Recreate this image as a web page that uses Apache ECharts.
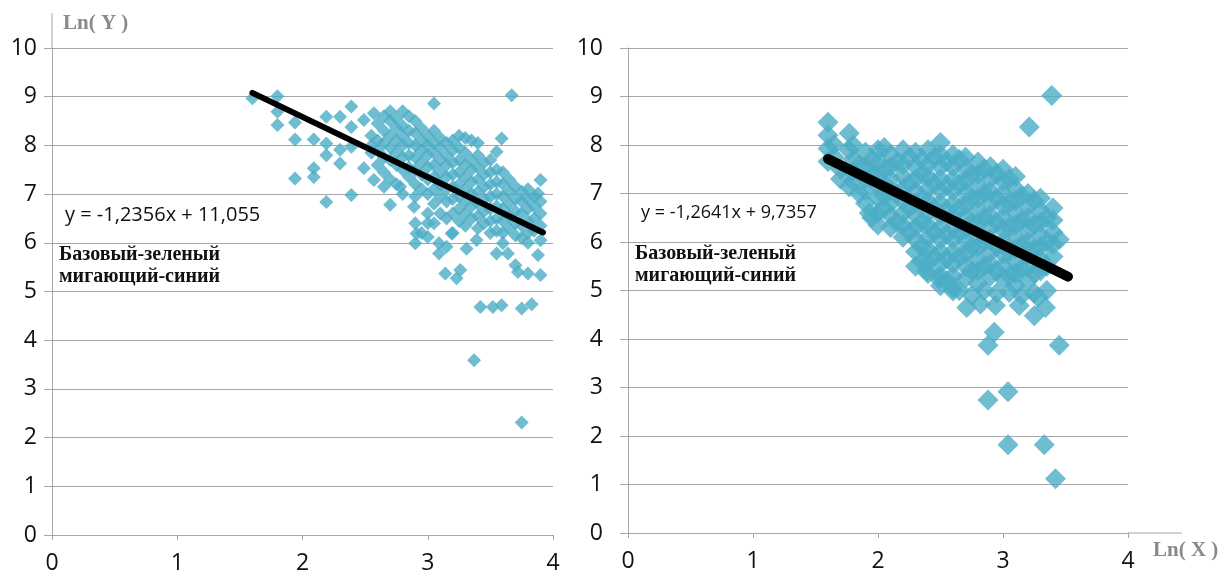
<!DOCTYPE html>
<html><head><meta charset="utf-8">
<script src="https://cdn.jsdelivr.net/npm/echarts@6/dist/echarts.min.js"></script>
<style>html,body{margin:0;background:#fff}#c{width:1229px;height:577px}</style>
</head><body><div id="c"></div>
<script>
const xTickMin = 0, xTickMax = 4, yTickMin = 0, yTickMax = 10;
const eqLeft = 'y = -1,2356x + 11,055';
const eqRight = 'y = -1,2641x + 9,7357';
const noteLines = ['Базовый-зеленый', 'мигающий-синий'];
const yTitle = 'Ln( Y )';
const xTitle = 'Ln( X )';

const trendLeft = [[1.6, 9.078], [3.92, 6.212]];
const trendRight = [[1.6, 7.713], [3.52, 5.286]];

const pointsLeft = [
[1.6,8.97],[1.8,9.01],[1.8,8.69],[1.8,8.42],[1.94,8.47],[1.94,8.12],[1.94,7.32],[2.09,8.12],[2.09,7.53],[2.09,7.35],
[2.19,8.59],[2.19,8.04],[2.19,7.8],[2.19,6.84],[2.3,8.59],[2.3,7.91],[2.3,7.63],[2.39,8.8],[2.39,8.38],[2.39,7.97],
[2.39,6.98],[2.49,8.52],[2.49,7.53],[2.57,8.66],[2.57,7.29],[2.65,7.15],[2.7,6.78],[2.78,7.15],[2.89,6.74],[3.05,8.86],
[2.55,8.2],[2.55,8.0],[2.55,7.85],
[2.6,8.45],[2.6,8.1],[2.6,7.9],[2.6,7.6],
[2.65,8.6],[2.65,8.3],[2.65,8.05],[2.65,7.75],[2.65,7.45],
[2.7,8.7],[2.7,8.5],[2.7,8.2],[2.7,7.95],[2.7,7.7],[2.7,7.3],
[2.75,8.55],[2.75,8.35],[2.75,8.1],[2.75,7.85],[2.75,7.6],[2.75,7.2],
[2.8,8.7],[2.8,8.4],[2.8,8.2],[2.8,8.0],[2.8,7.75],[2.8,7.5],[2.8,7.0],
[2.85,8.6],[2.85,8.3],[2.85,8.05],[2.85,7.8],[2.85,7.55],[2.85,7.35],
[2.9,8.5],[2.9,8.25],[2.9,8.0],[2.9,7.75],[2.9,7.5],[2.9,7.2],[2.9,6.95],[2.9,6.4],
[2.95,8.35],[2.95,8.1],[2.95,7.9],[2.95,7.65],[2.95,7.4],[2.95,7.1],[2.95,6.2],
[3.0,8.2],[3.0,8.0],[3.0,7.8],[3.0,7.55],[3.0,7.3],[3.0,7.0],[3.0,6.6],[3.0,6.4],
[3.05,8.3],[3.05,8.05],[3.05,7.85],[3.05,7.6],[3.05,7.35],[3.05,7.1],[3.05,6.8],[3.05,6.4],
[3.1,8.15],[3.1,7.95],[3.1,7.7],[3.1,7.45],[3.1,7.2],[3.1,6.95],[3.1,6.6],
[3.15,8.05],[3.15,7.8],[3.15,7.6],[3.15,7.35],[3.15,7.1],[3.15,6.85],[3.15,6.5],
[3.2,8.1],[3.2,7.9],[3.2,7.65],[3.2,7.4],[3.2,7.15],[3.2,6.9],[3.2,6.6],[3.2,6.2],
[3.25,8.2],[3.25,7.95],[3.25,7.7],[3.25,7.45],[3.25,7.2],[3.25,6.95],[3.25,6.7],[3.25,6.45],
[3.3,8.15],[3.3,7.85],[3.3,7.6],[3.3,7.35],[3.3,7.1],[3.3,6.85],[3.3,6.6],[3.3,6.35],
[3.35,8.1],[3.35,7.7],[3.35,7.5],[3.35,7.25],[3.35,7.0],[3.35,6.75],[3.35,6.5],
[3.4,8.05],[3.4,7.8],[3.4,7.55],[3.4,7.3],[3.4,7.05],[3.4,6.8],[3.4,6.55],[3.4,6.3],
[3.45,7.65],[3.45,7.4],[3.45,7.15],[3.45,6.9],[3.45,6.65],[3.45,6.4],
[3.5,7.7],[3.5,7.45],[3.5,7.2],[3.5,6.95],[3.5,6.7],[3.5,6.45],[3.5,6.2],
[3.55,7.5],[3.55,7.25],[3.55,7.0],[3.55,6.75],[3.55,6.5],[3.55,6.25],
[3.6,7.45],[3.6,7.2],[3.6,6.95],[3.6,6.7],[3.6,6.45],[3.6,6.2],
[3.65,7.3],[3.65,7.05],[3.65,6.8],[3.65,6.55],[3.65,6.3],
[3.7,7.15],[3.7,6.9],[3.7,6.65],[3.7,6.4],[3.7,6.15],
[3.75,7.05],[3.75,6.85],[3.75,6.6],[3.75,6.35],[3.75,6.1],
[3.8,7.1],[3.8,6.9],[3.8,6.7],[3.8,6.45],[3.8,6.2],[3.8,6.0],
[3.85,6.95],[3.85,6.75],[3.85,6.5],[3.85,6.25],
[3.9,6.85],[3.9,6.6],[3.9,6.35],
[2.91,6.19],[2.9,5.99],[3.0,6.12],[3.09,5.99],[3.09,5.78],[3.15,5.92],[3.14,5.37],[3.23,5.27],[3.26,5.44],[3.19,6.19],
[3.31,5.88],[3.39,6.06],[3.55,5.78],[3.64,5.78],[3.6,5.99],[3.7,5.54],[3.72,5.4],[3.8,5.37],[3.9,5.34],[3.88,5.75],
[3.9,6.05],[3.88,7.01],[3.9,7.29],[3.59,8.14],[3.55,7.87],[3.67,9.03],[3.42,4.68],[3.52,4.68],[3.59,4.72],[3.75,4.65],
[3.83,4.74],[3.37,3.59],[3.75,2.31]
];

const pointsRight = [
[1.6,8.47],[1.6,8.2],[1.6,7.93],[1.6,7.66],[1.77,8.24],[1.77,7.89],[1.77,7.14],[1.93,6.6],[3.39,9.02],[3.21,8.37],
[3.45,6.05],[3.45,3.87],[2.88,3.87],[2.93,4.14],[2.88,2.74],[3.04,2.91],[3.04,1.82],[3.33,1.82],[3.42,1.12],[2.71,4.65],
[2.82,4.72],[2.94,4.69],[3.05,4.96],[3.13,4.69],[3.25,4.48],[3.28,4.86],[3.34,4.65],[2.6,4.99],[2.39,5.4],[2.49,5.23],
[1.65,8.0],[1.65,7.75],
[1.7,7.5],[1.7,7.3],
[1.8,8.0],[1.8,7.7],[1.8,7.45],[1.8,7.25],
[1.85,7.6],[1.85,7.0],
[1.9,7.85],[1.9,7.55],[1.9,7.3],[1.9,7.05],[1.9,6.8],
[1.95,7.7],[1.95,7.4],[1.95,6.5],
[2.0,7.9],[2.0,7.65],[2.0,7.4],[2.0,7.15],[2.0,6.9],[2.0,6.6],[2.0,6.35],
[2.05,7.95],[2.05,7.5],[2.05,7.2],[2.05,6.95],[2.05,6.7],
[2.1,7.8],[2.1,7.55],[2.1,7.3],[2.1,7.05],[2.1,6.8],[2.1,6.55],[2.1,6.3],
[2.15,7.65],[2.15,7.0],[2.15,6.4],
[2.2,7.9],[2.2,7.6],[2.2,7.35],[2.2,7.1],[2.2,6.85],[2.2,6.6],[2.2,6.35],[2.2,6.1],
[2.25,7.75],[2.25,7.2],[2.25,6.7],[2.25,6.2],
[2.3,7.85],[2.3,7.55],[2.3,7.3],[2.3,7.05],[2.3,6.8],[2.3,6.55],[2.3,6.3],[2.3,6.05],[2.3,5.8],[2.3,5.5],
[2.35,7.7],[2.35,7.4],[2.35,6.9],[2.35,6.4],[2.35,5.9],[2.35,5.6],
[2.4,7.9],[2.4,7.6],[2.4,7.35],[2.4,7.1],[2.4,6.85],[2.4,6.6],[2.4,6.35],[2.4,6.1],[2.4,5.85],[2.4,5.6],[2.4,5.35],
[2.45,7.75],[2.45,7.2],[2.45,6.7],[2.45,6.2],[2.45,5.7],
[2.5,8.05],[2.5,7.8],[2.5,7.55],[2.5,7.3],[2.5,7.05],[2.5,6.8],[2.5,6.55],[2.5,6.3],[2.5,6.05],[2.5,5.8],[2.5,5.55],[2.5,5.3],[2.5,5.1],
[2.55,7.65],[2.55,7.15],[2.55,6.65],[2.55,6.15],[2.55,5.65],[2.55,5.2],
[2.6,7.8],[2.6,7.55],[2.6,7.3],[2.6,7.05],[2.6,6.8],[2.6,6.55],[2.6,6.3],[2.6,6.05],[2.6,5.8],[2.6,5.55],[2.6,5.3],[2.6,5.05],
[2.65,7.7],[2.65,7.2],[2.65,6.7],[2.65,6.2],[2.65,5.7],[2.65,5.0],
[2.7,7.75],[2.7,7.5],[2.7,7.25],[2.7,7.0],[2.7,6.75],[2.7,6.5],[2.7,6.25],[2.7,6.0],[2.7,5.75],[2.7,5.5],[2.7,5.25],
[2.75,7.4],[2.75,6.9],[2.75,6.4],[2.75,5.9],[2.75,5.4],[2.75,4.9],
[2.8,7.65],[2.8,7.4],[2.8,7.15],[2.8,6.9],[2.8,6.65],[2.8,6.4],[2.8,6.15],[2.8,5.9],[2.8,5.65],[2.8,5.4],[2.8,5.15],
[2.85,7.5],[2.85,7.0],[2.85,6.5],[2.85,6.0],[2.85,5.5],[2.85,5.0],
[2.9,7.55],[2.9,7.3],[2.9,7.05],[2.9,6.8],[2.9,6.55],[2.9,6.3],[2.9,6.05],[2.9,5.8],[2.9,5.55],[2.9,5.3],
[2.95,7.4],[2.95,6.9],[2.95,6.4],[2.95,5.9],[2.95,5.4],[2.95,4.95],
[3.0,7.5],[3.0,7.25],[3.0,7.0],[3.0,6.75],[3.0,6.5],[3.0,6.25],[3.0,6.0],[3.0,5.75],[3.0,5.5],[3.0,5.25],
[3.05,7.3],[3.05,6.8],[3.05,6.3],[3.05,5.8],[3.05,5.3],
[3.1,7.35],[3.1,7.1],[3.1,6.85],[3.1,6.6],[3.1,6.35],[3.1,6.1],[3.1,5.85],[3.1,5.6],[3.1,5.35],[3.1,5.1],
[3.15,6.95],[3.15,6.45],[3.15,5.95],[3.15,5.45],[3.15,4.9],
[3.2,7.0],[3.2,6.75],[3.2,6.5],[3.2,6.25],[3.2,6.0],[3.2,5.75],[3.2,5.5],[3.2,5.2],
[3.25,6.85],[3.25,6.35],[3.25,5.85],[3.25,5.35],[3.25,4.95],
[3.3,6.9],[3.3,6.65],[3.3,6.4],[3.3,6.15],[3.3,5.9],[3.3,5.65],[3.3,5.4],
[3.35,6.5],[3.35,6.0],[3.35,5.5],[3.35,5.0],
[3.4,6.7],[3.4,6.45],[3.4,6.2],[3.4,5.95],[3.4,5.7]
];

const pointColor = '#4bacc6';
const gridColor = '#a6a6a6';
const labelFont = '"Open Sans", "Noto Sans", sans-serif';
const serifFont = '"Liberation Serif", "DejaVu Serif", serif';

function xAxisDef(gridIndex, margin) {
  return {
    type: 'value', gridIndex, min: xTickMin, max: xTickMax, interval: 1,
    axisLine: { show: true, onZero: false, lineStyle: { color: gridColor, width: 1 } },
    axisTick: { show: true, length: 5, lineStyle: { color: gridColor } },
    axisLabel: { color: '#111', fontSize: 23, fontFamily: labelFont, margin },
    splitLine: { show: false }
  };
}
function yAxisDef(gridIndex, margin) {
  return {
    type: 'value', gridIndex, min: yTickMin, max: yTickMax, interval: 1,
    axisLine: { show: true, onZero: false, lineStyle: { color: gridColor, width: 1 } },
    axisTick: { show: true, length: 8, lineStyle: { color: gridColor } },
    axisLabel: { color: '#111', fontSize: 23, fontFamily: labelFont, margin },
    splitLine: { show: true, lineStyle: { color: gridColor, width: 1 } }
  };
}

const chart = echarts.init(document.getElementById('c'), null, { renderer: 'canvas' });
const option = {
  animation: false,
  backgroundColor: '#fff',
  grid: [
    { left: 52, right: 676, top: 48, bottom: 42 },
    { left: 628, right: 101, top: 48, bottom: 44 }
  ],
  xAxis: [xAxisDef(0, 17), xAxisDef(1, 17)],
  yAxis: [yAxisDef(0, 15), yAxisDef(1, 25)],
  series: [
    { type: 'scatter', xAxisIndex: 0, yAxisIndex: 0, data: pointsLeft, symbol: 'diamond', symbolSize: 14,
      itemStyle: { color: pointColor } },
    { type: 'scatter', xAxisIndex: 1, yAxisIndex: 1, data: pointsRight, symbol: 'diamond', symbolSize: 21,
      itemStyle: { color: pointColor } },
    { type: 'line', xAxisIndex: 0, yAxisIndex: 0, data: trendLeft, symbol: 'none', z: 5,
      lineStyle: { color: '#000', width: 6, cap: 'round' } },
    { type: 'line', xAxisIndex: 1, yAxisIndex: 1, data: trendRight, symbol: 'none', z: 5,
      lineStyle: { color: '#000', width: 10, cap: 'round' } }
  ]
};
chart.setOption(option);

const leftTop = chart.convertToPixel({ xAxisIndex: 0, yAxisIndex: 0 }, [xTickMin, yTickMax]);
const rightEnd = chart.convertToPixel({ xAxisIndex: 1, yAxisIndex: 1 }, [xTickMax, yTickMin]);

chart.setOption({
  graphic: [
    { type: 'line', shape: { x1: leftTop[0], y1: leftTop[1], x2: leftTop[0], y2: leftTop[1] - 35 },
      style: { stroke: gridColor, lineWidth: 1 } },
    { type: 'line', shape: { x1: rightEnd[0], y1: rightEnd[1], x2: rightEnd[0] + 54, y2: rightEnd[1] },
      style: { stroke: gridColor, lineWidth: 1 } },
    { type: 'text', left: 63, top: 13, style: { text: yTitle, fill: '#8a8a8a', font: 'bold 21px ' + serifFont } },
    { type: 'text', left: 1153, top: 540, style: { text: xTitle, fill: '#8a8a8a', font: 'bold 21px ' + serifFont } },
    { type: 'text', left: 65, top: 205, style: { text: eqLeft, fill: '#111', font: '20px ' + labelFont } },
    { type: 'text', left: 641, top: 204, style: { text: eqRight, fill: '#111', font: '18px ' + labelFont } },
    { type: 'text', left: 59, top: 244, style: { text: noteLines.join('\n'), fill: '#111', lineHeight: 22, font: 'bold 20px ' + serifFont } },
    { type: 'text', left: 635, top: 243, style: { text: noteLines.join('\n'), fill: '#111', lineHeight: 22, font: 'bold 20px ' + serifFont } }
  ]
});
</script></body></html>
